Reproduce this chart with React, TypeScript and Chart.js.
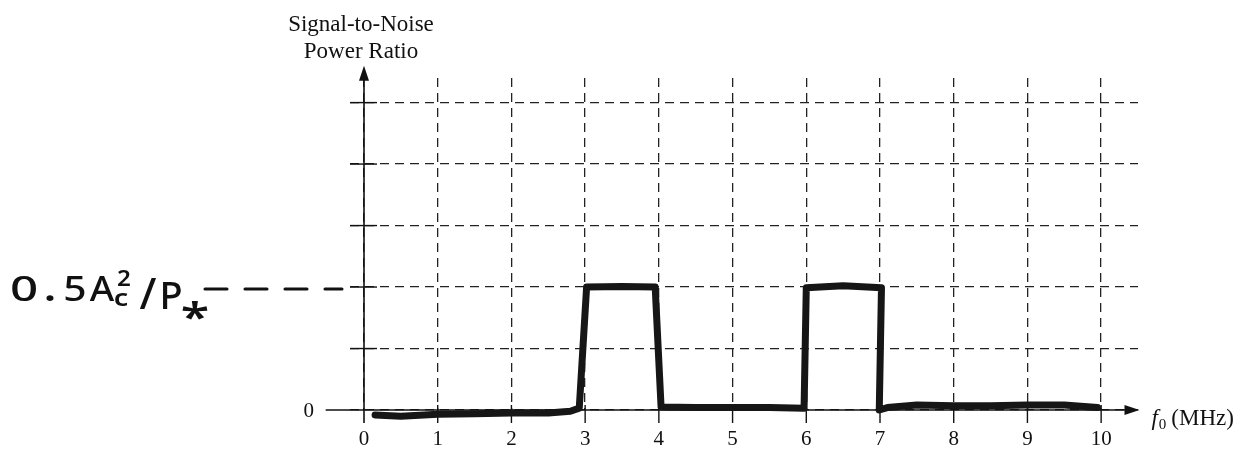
import React, { useEffect, useRef } from "react";
import { Chart, registerables } from "chart.js";

Chart.register(...registerables);

// ---- data ----
const xTickValues = [0, 1, 2, 3, 4, 5, 6, 7, 8, 9, 10];
const xTickLabels = ["0", "1", "2", "3", "4", "5", "6", "7", "8", "9", "10"];
const yTickValues = [0, 1, 2, 3, 4, 5];
const yTickLabels = ["0", "", "", "", "", ""];
const freqMHz = [0.15, 0.5, 1.0, 1.5, 2.0, 2.5, 2.8, 2.92, 3.02, 3.5, 3.95, 4.03, 4.5, 5.0, 5.5, 5.97, 6.0, 6.5, 7.02, 6.99, 7.1, 7.5, 8.0, 8.5, 9.0, 9.5, 9.95];
const snrValue = [-0.08, -0.1, -0.07, -0.06, -0.05, -0.05, -0.02, 0.03, 2.0, 2.01, 2.0, 0.05, 0.04, 0.04, 0.04, 0.03, 1.99, 2.02, 1.99, 0.0, 0.04, 0.08, 0.07, 0.07, 0.08, 0.08, 0.04];
const markerLevel = 2;
const yTitleLines = ["Signal-to-Noise", "Power Ratio"];
const xTitle = "(MHz)";

const SERIF = '"Liberation Serif", "Times New Roman", serif';
const HAND = '"Noto Sans", "Liberation Sans", sans-serif';

const overlay = {
  id: "overlay",
  beforeDatasetsDraw(chart: any) {
    const { ctx, scales } = chart;
    const xs = scales.x;
    const ys = scales.y;
    const x0 = xs.getPixelForValue(0);
    const y0 = ys.getPixelForValue(0);
    ctx.save();
    ctx.strokeStyle = "#111";
    ctx.fillStyle = "#111";
    ctx.lineWidth = 1.6;
    ctx.setLineDash([]);
    // x axis
    const xStart = xs.getPixelForValue(-0.52);
    const xEnd = xs.getPixelForValue(10.52);
    ctx.beginPath();
    ctx.moveTo(xStart, y0);
    ctx.lineTo(xEnd - 10, y0);
    ctx.stroke();
    ctx.beginPath();
    ctx.moveTo(xEnd, y0);
    ctx.lineTo(xEnd - 15, y0 - 5);
    ctx.lineTo(xEnd - 15, y0 + 5);
    ctx.closePath();
    ctx.fill();
    // y axis
    const yBot = ys.getPixelForValue(-0.21);
    const yTop = ys.getPixelForValue(5.6);
    ctx.beginPath();
    ctx.moveTo(x0, yBot);
    ctx.lineTo(x0, yTop + 10);
    ctx.stroke();
    ctx.beginPath();
    ctx.moveTo(x0, yTop);
    ctx.lineTo(x0 - 5, yTop + 15);
    ctx.lineTo(x0 + 5, yTop + 15);
    ctx.closePath();
    ctx.fill();
    // tick stubs
    ctx.lineWidth = 1.4;
    xTickValues.forEach((v) => {
      if (v === 0) return;
      const px = xs.getPixelForValue(v);
      ctx.beginPath();
      ctx.moveTo(px, y0 - 5);
      ctx.lineTo(px, y0 + 13);
      ctx.stroke();
    });
    yTickValues.forEach((v) => {
      if (v === 0) return;
      const py = ys.getPixelForValue(v);
      ctx.beginPath();
      ctx.moveTo(x0 - 14, py);
      ctx.lineTo(x0 + 13, py);
      ctx.stroke();
    });
    ctx.restore();
  },
  afterDraw(chart: any) {
    const { ctx, scales } = chart;
    const xs = scales.x;
    const ys = scales.y;
    const x0 = xs.getPixelForValue(0);
    const y0 = ys.getPixelForValue(0);
    ctx.save();
    ctx.fillStyle = "#111";
    ctx.setLineDash([]);
    // x tick labels
    ctx.font = `21px ${SERIF}`;
    ctx.textAlign = "center";
    ctx.textBaseline = "alphabetic";
    xTickValues.forEach((v, i) => {
      ctx.fillText(xTickLabels[i], xs.getPixelForValue(v), y0 + 35);
    });
    // y tick labels
    ctx.textAlign = "right";
    yTickValues.forEach((v, i) => {
      if (!yTickLabels[i]) return;
      ctx.fillText(yTickLabels[i], x0 - 50, ys.getPixelForValue(v) + 7);
    });
    // y title
    ctx.font = `23px ${SERIF}`;
    ctx.textAlign = "center";
    ctx.fillText(yTitleLines[0], x0 - 3, 31);
    ctx.fillText(yTitleLines[1], x0 - 3, 58);
    // x title: f_0 (MHz)
    ctx.textAlign = "left";
    let tx = xs.getPixelForValue(10.52) + 12;
    const ty = y0 + 15;
    ctx.font = `italic 23px ${SERIF}`;
    ctx.fillText("f", tx, ty);
    tx += ctx.measureText("f").width + 1;
    ctx.font = `15px ${SERIF}`;
    ctx.fillText("0", tx, ty + 4);
    tx += ctx.measureText("0").width + 5;
    ctx.font = `23px ${SERIF}`;
    ctx.fillText(xTitle, tx, ty);
    // handwritten marker label (hand-spaced glyphs)
    const my = ys.getPixelForValue(markerLevel);
    const hb = my + 14;
    ctx.textAlign = "center";
    const glyph = (t: string, cx: number, base: number, size: number, w = 500, sx = 1.25) => {
      ctx.save();
      ctx.translate(cx, base);
      ctx.scale(sx, 1);
      ctx.font = `${w} ${size}px ${HAND}`;
      ctx.fillText(t, 0, 0);
      ctx.restore();
    };
    glyph("0", 24, hb, 34, 500, 1.45);
    glyph(".", 50, hb, 34, 700, 1.2);
    glyph("5", 75, hb, 34, 500, 1.2);
    glyph("A", 102, hb, 34, 500, 1.1);
    glyph("2", 124, hb - 15, 22, 600, 1.1);
    glyph("c", 121, hb + 5, 24, 600, 1.2);
    glyph("/", 148, hb + 8, 44, 500, 1.0);
    glyph("P", 171, hb + 8, 38, 500, 1.0);
    glyph("*", 195, hb + 30, 40, 600, 1.3);
    // hand-drawn dashes to axis
    ctx.strokeStyle = "#111";
    ctx.lineWidth = 3;
    ctx.lineCap = "round";
    ctx.setLineDash([22, 18]);
    ctx.beginPath();
    ctx.moveTo(205, my + 2);
    ctx.lineTo(x0 - 22, my + 2);
    ctx.stroke();
    ctx.restore();
  },
};

export default function App() {
  const ref = useRef<HTMLCanvasElement | null>(null);
  useEffect(() => {
    if (!ref.current) return;
    const chart = new Chart(ref.current, {
      type: "line",
      data: {
        datasets: [
          {
            data: freqMHz.map((f, i) => ({ x: f, y: snrValue[i] })),
            borderColor: "#161616",
            borderWidth: 7,
            pointRadius: 0,
            tension: 0,
            fill: false,
            clip: false as any,
            borderJoinStyle: "round",
            borderCapStyle: "round",
          },
        ],
      },
      options: {
        animation: false,
        responsive: false,
        maintainAspectRatio: false,
        devicePixelRatio: 1,
        layout: { padding: { left: 350, right: 115, top: 78, bottom: 39 } },
        plugins: { legend: { display: false }, tooltip: { enabled: false } },
        scales: {
          x: {
            type: "linear",
            min: -0.19,
            max: 10.5,
            afterBuildTicks: (axis: any) => {
              axis.ticks = xTickValues.map((v) => ({ value: v }));
            },
            ticks: { display: false },
            border: { display: false, dash: [9, 6] },
            grid: {
              drawTicks: false,
              color: "#222",
              lineWidth: 1.3,
            },
          },
          y: {
            type: "linear",
            min: 0,
            max: 5.4,
            afterBuildTicks: (axis: any) => {
              axis.ticks = yTickValues.map((v) => ({ value: v }));
            },
            ticks: { display: false },
            border: { display: false, dash: [9, 6] },
            grid: {
              drawTicks: false,
              color: "#222",
              lineWidth: 1.3,
            },
          },
        },
      },
      plugins: [overlay],
    });
    return () => chart.destroy();
  }, []);
  return (
    <div style={{ position: "absolute", left: 0, top: 0, width: 1253, height: 449, background: "#fff" }}>
      <canvas ref={ref} width={1253} height={449} style={{ width: 1253, height: 449 }} />
    </div>
  );
}
